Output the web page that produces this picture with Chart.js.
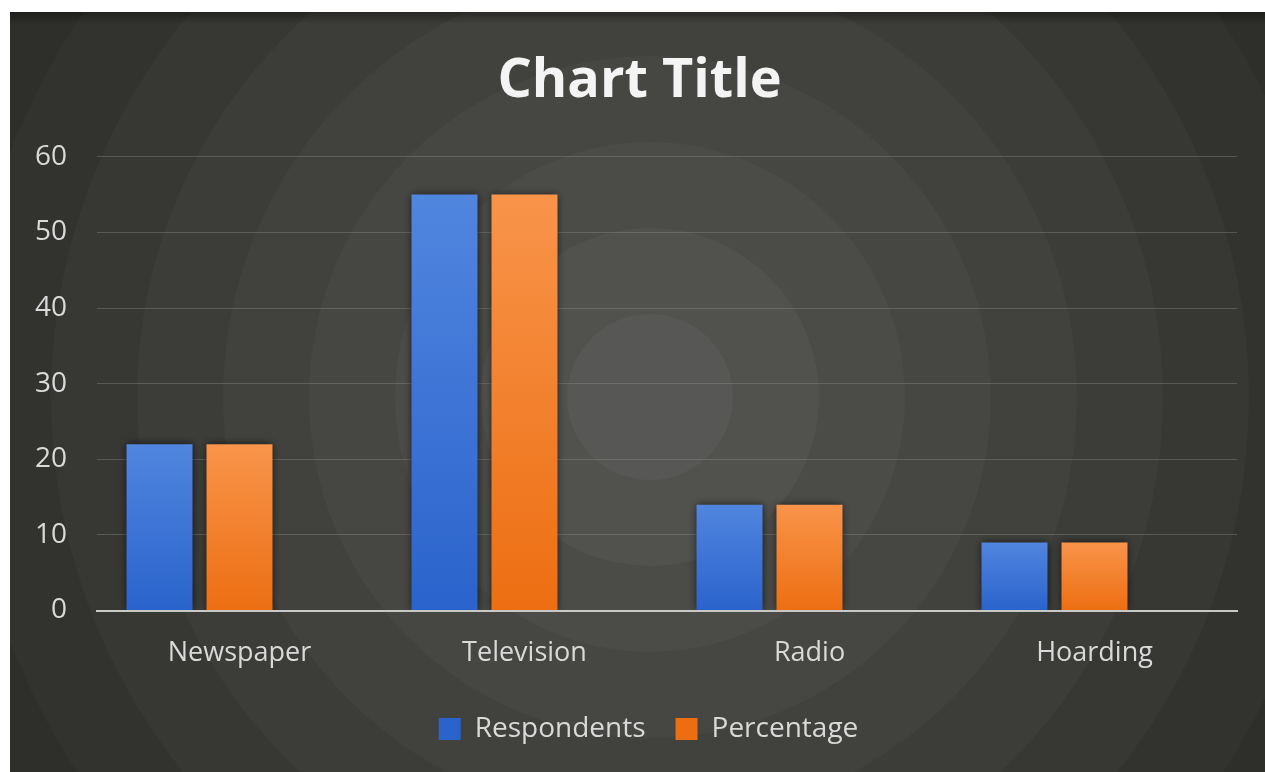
<!DOCTYPE html>
<html lang="en">
<head>
  <meta charset="UTF-8">
  <meta name="viewport" content="width=device-width, initial-scale=1.0">
  <title>Chart Title</title>
  <style>
    html, body {
      margin: 0;
      background: #fff;
    }
    .panel {
      position: absolute;
      left: 10px;
      top: 12px;
      width: 1255px;
      height: 760px;
    }
  </style>
</head>
<body>
  <div class="panel">
    <canvas id="media-chart"></canvas>
  </div>

  <script src="https://cdn.jsdelivr.net/npm/chart.js@4.4.1/dist/chart.umd.min.js"></script>
  <script>
    const CATEGORIES = ['Newspaper', 'Television', 'Radio', 'Hoarding'];
    const RESPONDENTS = [22, 55, 14, 9];
    const PERCENTAGE = [22, 55, 14, 9];
    // third column of the sheet is empty but still takes its slot
    const BLANK_SERIES = [null, null, null, null];
    const Y_MIN = 0;
    const Y_MAX = 60;
    const Y_STEP = 10;

    Chart.defaults.font.family = '"Open Sans", "Noto Sans", sans-serif';

    // vertical gradient per bar, solid colour for the legend swatch
    function barFill(top, bottom, solid) {
      return (c) => {
        const chart = c.chart;
        const y = chart.scales.y;
        if (c.dataIndex === undefined || !y || !chart.chartArea) {
          return solid;
        }
        const v = c.dataset.data[c.dataIndex];
        if (v === null || v === undefined) {
          return solid;
        }
        const g = chart.ctx.createLinearGradient(0, y.getPixelForValue(v), 0, y.getPixelForValue(0));
        g.addColorStop(0, top);
        g.addColorStop(1, bottom);
        return g;
      };
    }

    // concentric rings behind everything
    const ringBackdrop = {
      id: 'ringBackdrop',
      beforeDraw(chart) {
        const ctx = chart.ctx;
        const cx = 640, cy = 385;
        const rings = ['#575755', '#51524e', '#4b4c48', '#464743', '#41423e', '#3c3d39', '#373834', '#32332f', '#2e2f2b', '#2b2c28'];
        const step = 86;
        ctx.save();
        ctx.fillStyle = rings[rings.length - 1];
        ctx.fillRect(0, 0, chart.width, chart.height);
        for (let i = rings.length - 2; i >= 0; i--) {
          ctx.beginPath();
          ctx.arc(cx, cy, (i + 1) * step - 3, 0, Math.PI * 2);
          ctx.fillStyle = rings[i];
          ctx.fill();
        }
        // slight dark band along the top edge
        const band = ctx.createLinearGradient(0, 0, 0, 12);
        band.addColorStop(0, 'rgba(0, 0, 0, 0.35)');
        band.addColorStop(1, 'rgba(0, 0, 0, 0)');
        ctx.fillStyle = band;
        ctx.fillRect(0, 0, chart.width, 12);
        ctx.restore();
      }
    };

    const barShadow = {
      id: 'barShadow',
      beforeDatasetsDraw(chart) {
        const ctx = chart.ctx;
        ctx.save();
        ctx.shadowColor = 'rgba(0, 0, 0, 0.65)';
        ctx.shadowBlur = 8;
      },
      afterDatasetsDraw(chart) {
        chart.ctx.restore();
      }
    };

    // title and legend sit a bit right of the plot centre
    const nudgeBlocks = {
      id: 'nudgeBlocks',
      afterLayout(chart) {
        const moves = [[chart.titleBlock, 16], [chart.legend, 25]];
        for (const [box, dx] of moves) {
          if (box) {
            box.left += dx;
            box.right += dx;
          }
        }
      }
    };

    new Chart(document.getElementById('media-chart'), {
      type: 'bar',
      data: {
        labels: CATEGORIES,
        datasets: [
          {
            label: 'Respondents',
            data: RESPONDENTS,
            backgroundColor: barFill('#5186df', '#2a63cc', '#3a70d6'),
            borderWidth: 0
          },
          {
            label: 'Percentage',
            data: PERCENTAGE,
            backgroundColor: barFill('#f8944a', '#ed6e12', '#f27d24'),
            borderWidth: 0
          },
          {
            label: 'Series3',
            data: BLANK_SERIES,
            backgroundColor: '#a5a5a5',
            borderWidth: 0
          }
        ]
      },
      plugins: [ringBackdrop, barShadow, nudgeBlocks],
      options: {
        responsive: true,
        maintainAspectRatio: false,
        animation: false,
        categoryPercentage: 0.842,
        barPercentage: 0.825,
        layout: {
          padding: { left: 0, right: 28, top: 0, bottom: 19 }
        },
        plugins: {
          title: {
            display: true,
            text: 'Chart Title',
            color: '#f4f4f4',
            font: { size: 54, weight: 'bold' },
            padding: { top: 37, bottom: 43 }
          },
          legend: {
            position: 'bottom',
            labels: {
              color: '#d9d9d9',
              font: { size: 28 },
              boxWidth: 22,
              boxHeight: 22,
              padding: 30,
              filter: (item) => item.datasetIndex < 2
            }
          },
          tooltip: { enabled: false }
        },
        scales: {
          x: {
            grid: { display: false, drawTicks: false },
            border: { display: true, color: '#c8c8c6', width: 2, z: 1 },
            ticks: {
              color: '#d9d9d9',
              font: { size: 27 },
              padding: 27
            },
            afterFit: (s) => { s.height = 74.5; }
          },
          y: {
            min: Y_MIN,
            max: Y_MAX,
            grid: { color: 'rgba(150, 152, 144, 0.35)', lineWidth: 1, drawTicks: false },
            border: { display: false },
            ticks: {
              stepSize: Y_STEP,
              color: '#d9d9d9',
              font: { size: 28 },
              padding: 30
            },
            afterFit: (s) => { s.width = 87; }
          }
        }
      }
    });
  </script>
</body>
</html>
